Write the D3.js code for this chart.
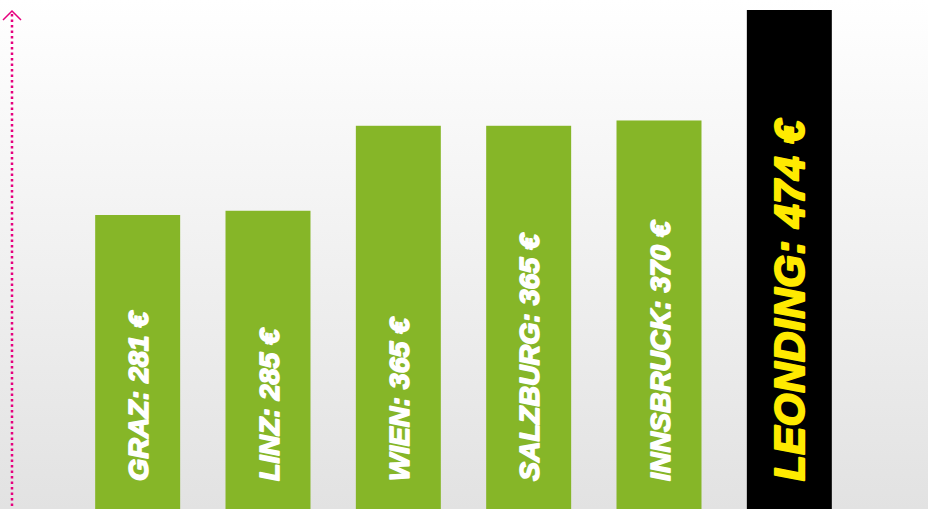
<!DOCTYPE html>
<html>
<head>
<meta charset="utf-8">
<script src="https://cdn.jsdelivr.net/npm/d3@7"></script>
<style>
  html, body { margin: 0; padding: 0; background: #fff; }
  svg { display: block; }
</style>
</head>
<body>
<script>
// chart values
var cities = ["GRAZ", "LINZ", "WIEN", "SALZBURG", "INNSBRUCK", "LEONDING"];
var prices = [281, 285, 365, 365, 370, 474];
var highlight = "LEONDING";

var width = 928, height = 509;

var svg = d3.select("body").append("svg")
    .attr("width", width)
    .attr("height", height);

// background gradient
var defs = svg.append("defs");
var grad = defs.append("linearGradient")
    .attr("id", "bg")
    .attr("x1", 0).attr("y1", 0).attr("x2", 0).attr("y2", 1);
grad.append("stop").attr("offset", "0%").attr("stop-color", "#ffffff");
grad.append("stop").attr("offset", "100%").attr("stop-color", "#e2e2e2");

svg.append("rect")
    .attr("width", width)
    .attr("height", height)
    .attr("fill", "url(#bg)");

// scales
var xScale = d3.scaleBand()
    .domain(cities)
    .range([72.5, 854.5])
    .paddingInner(0.348)
    .paddingOuter(0.174);

var yScale = d3.scaleLinear()
    .domain([0, d3.max(prices)])
    .range([513.5, 10]);

var data = cities.map(function(c, i) { return {city: c, price: prices[i]}; });

// bars
svg.append("g").attr("id", "bars")
    .selectAll("rect")
    .data(data)
    .enter()
    .append("rect")
    .attr("x", function(d) { return xScale(d.city); })
    .attr("y", function(d) { return yScale(d.price); })
    .attr("width", xScale.bandwidth())
    .attr("height", function(d) { return yScale(0) - yScale(d.price); })
    .attr("fill", function(d) { return d.city == highlight ? "#000000" : "#86b628"; });

// rotated labels
svg.append("g").attr("id", "labels")
    .selectAll("text")
    .data(data)
    .enter()
    .append("text")
    .attr("transform", function(d) {
        var big = d.city == highlight;
        var cx = xScale(d.city) + xScale.bandwidth() / 2 + (big ? 15 : 10.5);
        return "translate(" + cx + "," + 481 + ") rotate(-90)";
    })
    .attr("text-anchor", "start")
    .style("font-family", "'Liberation Sans', Arial, sans-serif")
    .style("font-weight", "bold")
    .style("font-style", "italic")
    .style("font-size", function(d) { return d.city == highlight ? "42px" : "28.5px"; })
    .style("fill", function(d) { return d.city == highlight ? "#ffea00" : "#ffffff"; })
    .style("stroke", function(d) { return d.city == highlight ? "#ffea00" : "#ffffff"; })
    .style("stroke-width", function(d) { return d.city == highlight ? 2.2 : 1.6; })
    .style("stroke-linejoin", "round")
    .style("letter-spacing", function(d) { return d.city == highlight ? "0.6px" : "0px"; })
    .text(function(d) { return d.city + ": " + d.price + " €"; });

// dotted axis with arrow
var axis = svg.append("g").attr("id", "axis");
axis.append("line")
    .attr("x1", 12).attr("x2", 12)
    .attr("y1", 14).attr("y2", height)
    .attr("stroke", "#e6007e")
    .attr("stroke-width", 2.5)
    .attr("stroke-dasharray", "2.5,3");
axis.append("path")
    .attr("d", "M3,20 L12,11 L21,20")
    .attr("fill", "none")
    .attr("stroke", "#e6007e")
    .attr("stroke-width", 1.5);
</script>
</body>
</html>
